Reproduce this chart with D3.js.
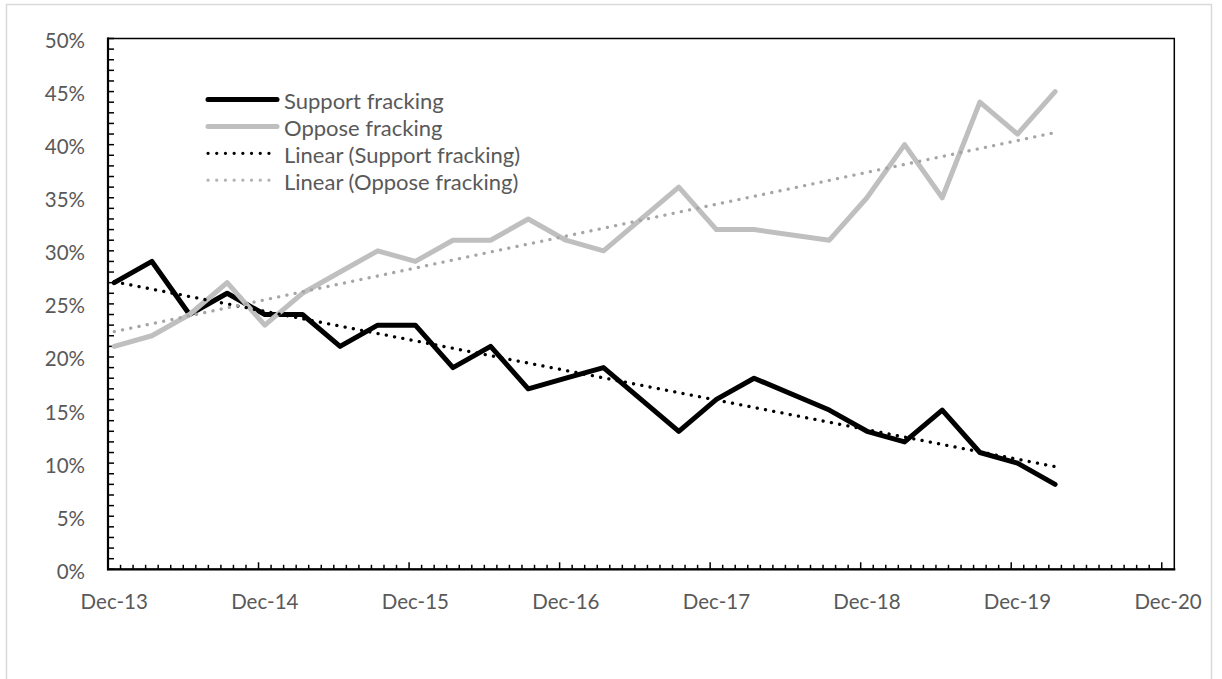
<!DOCTYPE html>
<html>
<head>
<meta charset="utf-8">
<script src="https://cdn.jsdelivr.net/npm/d3@7"></script>
<style>
  body { margin: 0; background: #fff; }
  text { font-family: Lato, "Open Sans", sans-serif; fill: #595959; }
</style>
</head>
<body>
<svg width="1222" height="679"></svg>
<script>
// survey waves (month of fieldwork)
var months = ["2013-12","2014-03","2014-06","2014-09","2014-12","2015-03","2015-06","2015-09",
              "2015-12","2016-03","2016-06","2016-09","2016-12","2017-03","2017-09","2017-12",
              "2018-03","2018-09","2018-12","2019-03","2019-06","2019-09","2019-12","2020-03"];
var support = [27,29,24,26,24,24,21,23,23,19,21,17,18,19,13,16,18,15,13,12,15,11,10,8];
var oppose  = [21,22,24,27,23,26,28,30,29,31,31,33,31,30,36,32,32,31,35,40,35,44,41,45];
var yTicks = [0,5,10,15,20,25,30,35,40,45,50];
var yearLabels = ["Dec-13","Dec-14","Dec-15","Dec-16","Dec-17","Dec-18","Dec-19","Dec-20"];
var legendNames = ["Support fracking","Oppose fracking","Linear (Support fracking)","Linear (Oppose fracking)"];

var svg = d3.select("svg");
var parse = d3.utcParse("%Y-%m");

var plotLeft = 108, plotRight = 1174.3, plotTop = 38.5, plotBottom = 569.3;

// Excel date axis, base unit = month: every month is one slot
var start = parse("2013-12"), end = parse("2021-01");
var monthList = d3.utcMonth.range(start, end);
var x = d3.scaleLinear().domain([0, monthList.length]).range([plotLeft, plotRight]);
var y = d3.scaleLinear().domain([0, 50]).range([plotBottom, plotTop]);

function monthIndex(s) { return d3.utcMonth.count(start, parse(s)); }
function mx(s) { return x(monthIndex(s) + 0.5); }

// outer chart border
svg.append("rect")
    .attr("x", 6.5).attr("y", 4.5)
    .attr("width", 1205).attr("height", 700)
    .attr("fill", "none").attr("stroke", "#d9d9d9").attr("stroke-width", 1.5);

// plot area border
svg.append("rect")
    .attr("x", plotLeft).attr("y", plotTop)
    .attr("width", plotRight - plotLeft).attr("height", plotBottom - plotTop)
    .attr("fill", "none").attr("stroke", "#000").attr("stroke-width", 1.5);

// y axis: minor ticks every 1%, labels every 5%
var yAxis = svg.append("g").attr("class", "y-axis");
yAxis.selectAll("line.tick")
    .data(d3.range(0, 51))
  .enter().append("line")
    .attr("x1", plotLeft).attr("x2", plotLeft + 6)
    .attr("y1", function(d) { return y(d); })
    .attr("y2", function(d) { return y(d); })
    .attr("stroke", "#000").attr("stroke-width", 1.5);
yAxis.selectAll("text")
    .data(yTicks)
  .enter().append("text")
    .attr("x", 85)
    .attr("y", function(d) { return y(d) + 1.5; })
    .attr("text-anchor", "end")
    .attr("dominant-baseline", "central")
    .style("font-size", "20.5px")
    .text(function(d) { return d + "%"; });
yAxis.append("line")
    .attr("x1", plotLeft).attr("x2", plotLeft)
    .attr("y1", plotTop - 1).attr("y2", plotBottom + 1)
    .attr("stroke", "#000").attr("stroke-width", 2.2);

// x axis: tick at each month boundary, taller at December
var xAxis = svg.append("g").attr("class", "x-axis");
xAxis.selectAll("line.tick")
    .data(monthList)
  .enter().append("line")
    .attr("x1", function(d, i) { return x(i); })
    .attr("x2", function(d, i) { return x(i); })
    .attr("y1", plotBottom)
    .attr("y2", function(d) { return d.getUTCMonth() === 11 ? plotBottom - 7 : plotBottom - 4.5; })
    .attr("stroke", "#000").attr("stroke-width", 1.5);
xAxis.selectAll("text")
    .data(yearLabels)
  .enter().append("text")
    .attr("x", function(d, i) { return x(i * 12 + 0.5); })
    .attr("y", 601)
    .attr("text-anchor", "middle")
    .attr("dominant-baseline", "central")
    .style("font-size", "20.5px")
    .text(function(d) { return d; });
xAxis.append("line")
    .attr("x1", plotLeft - 1).attr("x2", plotRight + 1)
    .attr("y1", plotBottom).attr("y2", plotBottom)
    .attr("stroke", "#000").attr("stroke-width", 2.2);

// linear trend (least squares on the month position)
function trend(values) {
  var xs = months.map(monthIndex);
  var mxv = d3.mean(xs), myv = d3.mean(values);
  var sxy = d3.sum(xs, function(v, i) { return (v - mxv) * (values[i] - myv); });
  var sxx = d3.sum(xs, function(v) { return (v - mxv) * (v - mxv); });
  var b = sxy / sxx, a = myv - b * mxv;
  return [months[0], months[months.length - 1]].map(function(m) {
    return [mx(m), y(a + b * monthIndex(m))];
  });
}

var line = d3.line()
    .x(function(d, i) { return mx(months[i]); })
    .y(function(d) { return y(d); });

var series = [
  { values: support, color: "#000000" },
  { values: oppose,  color: "#bfbfbf" }
];

svg.selectAll("path.series")
    .data(series)
  .enter().append("path")
    .attr("class", "series")
    .attr("d", function(d) { return line(d.values); })
    .attr("fill", "none")
    .attr("stroke", function(d) { return d.color; })
    .attr("stroke-width", 5)
    .attr("stroke-linejoin", "round")
    .attr("stroke-linecap", "round");

var trendColors = ["#000000", "#a6a6a6"];
svg.selectAll("path.trend")
    .data(series)
  .enter().append("path")
    .attr("class", "trend")
    .attr("d", function(d) { return d3.line()(trend(d.values)); })
    .attr("fill", "none")
    .attr("stroke", function(d, i) { return trendColors[i]; })
    .attr("stroke-width", 3.3)
    .attr("stroke-linecap", "round")
    .attr("stroke-dasharray", "0.1 8.3");

// legend
var legendStyles = [
  { color: "#000000", width: 5, dash: null },
  { color: "#bfbfbf", width: 5, dash: null },
  { color: "#000000", width: 3.2, dash: "0.1 8.6" },
  { color: "#b4b4b4", width: 3.2, dash: "0.1 8.6" }
];
var legend = svg.append("g").attr("class", "legend");
var row = legend.selectAll("g")
    .data(legendNames)
  .enter().append("g")
    .attr("transform", function(d, i) { return "translate(0," + (99.5 + i * 26.9) + ")"; });
row.append("line")
    .attr("x1", 208).attr("x2", 277)
    .attr("stroke", function(d, i) { return legendStyles[i].color; })
    .attr("stroke-width", function(d, i) { return legendStyles[i].width; })
    .attr("stroke-linecap", "round")
    .attr("stroke-dasharray", function(d, i) { return legendStyles[i].dash; });
row.append("text")
    .attr("x", 284)
    .attr("y", 1)
    .attr("dominant-baseline", "central")
    .style("font-size", "22px")
    .text(function(d) { return d; });
</script>
</body>
</html>
